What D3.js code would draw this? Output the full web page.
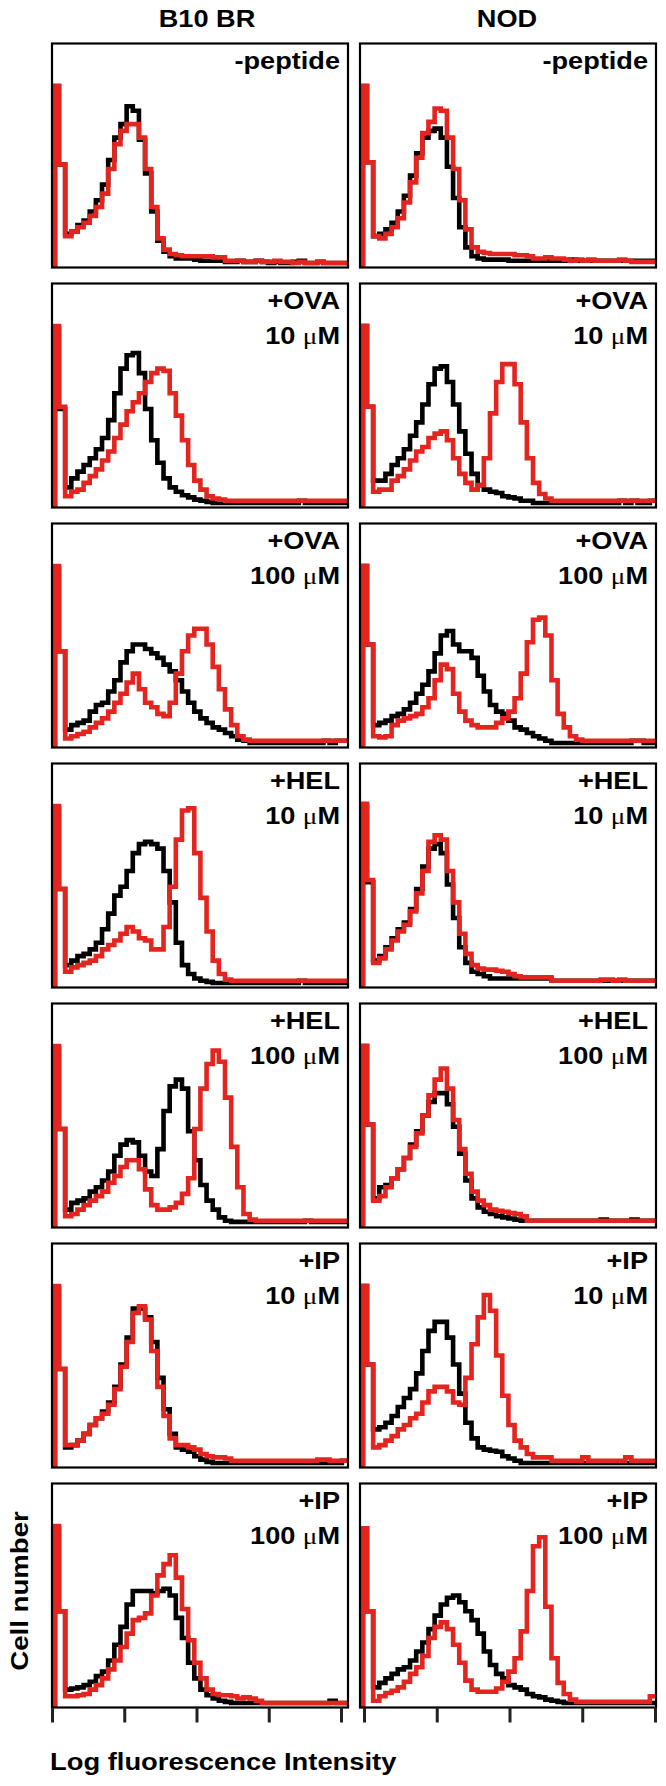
<!DOCTYPE html>
<html lang="en">
<head>
<meta charset="utf-8">
<script src="https://d3js.org/d3.v7.min.js"></script>
<title>Cell number histograms</title>
<style>
  body { margin: 0px; background-color: #ffffff; }
  text { font-family: "Liberation Sans", Arial, sans-serif; font-weight: bold; fill: #000; }
</style>
</head>
<body>
<div id="chart"></div>
<script>
var strains = ["B10 BR", "NOD"];
var peptides = ["-peptide", "+OVA", "+OVA", "+HEL", "+HEL", "+IP", "+IP"];
var doses = ["", "10", "100", "10", "100", "10", "100"];
var decades = [1, 10, 100, 1000, 10000];

// 48 bins per histogram, cell number as % of panel height
var b10Black = [
  [81,46,15,16,19,21,25,30, 37,48,58,64,72,70,57,42, 25,12,7,5,4,4,4,3.5, 3,3,3,3,2.5,2.5,3,2.5, 2.5,3,2.5,2,2.5,2,2,2.5, 3,2,2,2.5,2,2,2,2],
  [80,44,9,13,16,19,22,26, 31,39,51,62,68,69,60,44, 30,20,13,9,7,5.5,4.5,3.5, 3,2.5,2,2,2,2,2,2, 2,2,2,2,2,2,2,2, 3,2,2,2,2,2,2,2],
  [80,43,8,10,11,12,16,19, 20,25,30,38,43,46,46,44, 42,40,37,34,30,25,20,16, 13,11,9,8,6.5,5,3.5,3, 2,2,2,2,2,2,2,2, 2,2,2,2,3,2,3,3],
  [80,44,10,12,14,15,17,20, 26,33,41,45,52,60,64,65, 64,62,52,38,20,10,6,4, 3,2.5,2,2,2,2,2,2, 2,2,2,2,2,2,2,2, 3,2,2,2,2,2,2,2],
  [80,44,8,11,12,13,16,18, 21,25,32,37,39,38,32,25, 23,35,52,63,66,62,43,30, 19,12,8,4.5,3,2.5,2.5,2.5, 2.5,2.5,2.5,2.5,2.5,2.5,2.5,2.5, 2.5,3,2.5,2.5,2.5,2.5,2.5,2.5],
  [80,44,9,10,12,15,19,22, 25,29,36,46,58,71,71,67, 56,40,26,15,9,8,7,5, 3.5,2.5,2,2,2,2,2,2, 2,2,2,2,2,2,2,2, 2,2,2,2,2,2,2,3],
  [80,43,8,8.5,9,10,11.5,14, 16,21,28,36,46,52,52,52, 51,52,53,50,40,31,20,13, 8,5.5,4,3,2.5,2,2,2, 2,2,2,2,2,2,2,2, 2,2,2,2,2,3,2,2]
];
var b10Red = [
  [81,46,14,16,18,20,23,27, 33,44,55,61,64,64,58,44, 27,13,8,6,5.5,5,5,5, 5,5,4.5,4.5,3,3,3,2.5, 2.5,3,2.5,2.5,3,2.5,2.5,2, 2.5,2,2,2.5,2,2,2,2],
  [81,45,5,7,8,11,14,17, 21,25,31,37,43,47,51,56, 60,62,61,51,41,30,19,12, 8,5,4,3.5,3,3,3,3, 3,3,3,3,3,3,3,3, 3,3,3,3,3,3,3,3],
  [81,43,4,5,6,7,9,11, 13,16,20,24,29,33,26,20, 18,15,14,20,33,43,50,53, 53,46,36,26,17,10,5,3.5, 3,3,3,3,3,3,3,3, 3,3,3,3,3,3,3,3],
  [81,44,7,9,10,11,12,14, 17,19,21,24,27,25,22,21, 17,17,27,45,66,79,80,60, 40,25,12,6,3.5,3,3,3, 3,3,3,3,3,3,3,3, 3,3,3,3,3,3,3,3],
  [81,44,5,6,8,10,12,14, 16,20,23,27,30,30,26,17, 10,8,8,9,11,15,22,44, 62,73,79,74,58,36,18,6, 3.5,3,3,3,3,3,3,3, 3,3,3,3,3,3,3,3],
  [81,44,10,10,12,15,19,22, 24,28,35,45,56,69,72,66, 52,36,23,13,10,10,9,8, 6,5,4.5,4.5,4,3,3,3, 3,3,3,3,3,3,3,3, 3,3,3,3.5,3.5,3,3,3],
  [81,43,5,5,5.5,6,8,10, 13,17,21,27,33,39,40,42, 50,59,64,68,58,44,30,20, 13,8,6,5.5,5.5,5,4,4.5, 4,3,2,2,2,2,2,2, 2,2,2,2,2,2,2,2]
];
var nodBlack = [
  [81,47,14,15,17,20,25,32, 41,51,58,61,62,58,45,31, 18,9,5,4,3.5,3.5,3.5,3.5, 3,3,3,3,3,3,3,3, 3,3,3.5,3,3,3,3,3, 3,3,3,3,3,3,3,3],
  [81,45,12,12,15,19,22,26, 32,38,46,55,62,63,56,46, 34,24,15,10,8,7,6.5,5, 4.5,4,3,3,2,2,2,2, 2,2,2,2,2,2,2,2, 2,2,3,2,3,2,2,3],
  [81,46,10,11,12,14,15,17, 20,24,28,34,42,50,52,46, 43,43,40,32,25,19,16,15, 12,9,8,6.5,5,4,3,2, 2,2,2,2,2,2,2,2, 2,2,2,2,3,3,2,2],
  [81,47,12,14,18,22,26,29, 35,44,54,62,64,60,46,31, 18,11,7,6,5,4,4,4, 4,4,4,4,4,4,4,3, 3,3,3,3,3,3,3,3, 3,3,3,3,3,3,3,3],
  [81,46,13,18,19,22,26,31, 37,43,50,56,60,60,55,45, 33,21,13,9,7,6,5,4.5, 4,3.5,3,3,3,3,3,3, 3,3,3,3,3,3,3,3.5, 3,3,3,3,3.5,3,3,3],
  [81,46,17,18,20,23,27,31, 35,42,52,61,65,65,58,46, 33,20,13,9,8,7.5,7,5, 4,3,2,2,2,2,2,2, 2,2,2,2,2,2,2,2, 2,2,2,2,2,2,2,2],
  [80,43,9,11,13,15,17,18, 21,25,29,35,41,46,49,50, 47,43,39,33,25,19,15,13, 10,9,8,6,5,4.5,3.5,3, 2.5,2,2,2,2,2,2,2, 2,2,2,2,2,2,2,2]
];
var nodRed = [
  [81,47,14,13,15,18,22,29, 38,49,60,65,71,70,58,44, 30,17,9,7,6.5,6,6,6, 6,5.5,5.5,5,4,4,4.5,4, 4,3.5,3,3.5,3,3.5,3,3, 3,3,3.5,3,2.5,2.5,2.5,2.5],
  [81,45,7,8,8,12,14,17, 21,25,27,31,33,34,30,22, 15,11,8,10,22,42,56,64, 64,55,38,22,11,6,4,3, 3,3,3,3,3,3,3,3, 3,3,3,3,3,3,3,3],
  [81,46,5,4.5,5,10,12,13, 14,15,18,22,30,37,35,24, 16,12,10,9,9,9,11,13, 16,22,33,47,57,58,50,30, 15,9,5,3.5,3,3,3,3, 3,3,3,3,3,3,3,3],
  [82,48,11,13,17,21,25,28, 34,42,52,65,68,66,52,38, 24,15,10,8.5,8,8,7.5,7, 6,5,4.5,4.5,4.5,4.5,4.5,3, 3,3,3,3,3,3,3,3.5, 3.5,3,3.5,3,3,3,3,3],
  [81,46,12,14,18,22,26,31, 36,42,50,59,66,71,62,48, 35,24,16,12,10,8,7.5,7, 6.5,6,5,3,3,3,3,3, 3,3,3,3,3,3,3,3, 3,3,3,3,3,3,3,3],
  [81,46,9,10,12,14,17,19, 22,24,29,34,36,36,34,29, 28,40,55,67,77,70,50,32, 19,12,9,6,4.5,4.5,4.5,3, 3,3,3,3,4.5,3,3,3, 3,3,3,4.5,3,3,3,3],
  [80,43,3,5,6.5,7.5,9,11.5, 15,18,23,31,36,38,35,28, 20,12,8,7,7,7,8.5,11.5, 16,22,34,52,72,76,45,22, 11,6,3.5,2.5,2.5,2.5,2.5,2.5, 2.5,2.5,2.5,2.5,2.5,2.5,2.5,5]
];

var width = 666, height = 1786;
var panelW = 296, panelH = 224, rowStep = 240, top0 = 43.5;
var colX = [52, 360];
var tickRange = [[52, 341], [364, 655]];
var nBins = 48;
var red = "#e3241f";
var lineW = 4.6;

var svg = d3.select("#chart")
  .append("svg")
  .attr("width", width)
  .attr("height", height);

// stretched bold text, like the original figure lettering
function label(x, y, anchor, size, sx, rot) {
  var t = "translate(" + x + "," + y + ")" + (rot ? " rotate(" + rot + ")" : "") + " scale(" + sx + ",1)";
  return svg.append("g").attr("transform", t)
    .append("text")
    .attr("text-anchor", anchor)
    .style("font-size", size + "px");
}

label(207, 27, "middle", 23, 1.18).text(strains[0]);
label(507, 27, "middle", 23, 1.18).text(strains[1]);

function points(vals) {
  var p = [[0, 0]];
  vals.forEach(function(v, i) { p.push([i, v]); });
  p.push([nBins, vals[nBins - 1]]);
  return p;
}

[[b10Black, b10Red], [nodBlack, nodRed]].forEach(function(series, c) {
  var x0 = colX[c];
  for (var r = 0; r < peptides.length; r++) {
    var y0 = top0 + r * rowStep;
    // first bin (off-scale pile-up) is drawn narrow, as on the cytometer plot
    var x = d3.scaleLinear().domain([0, 1, nBins]).range([x0 + 3, x0 + 7, x0 + panelW]);
    var y = d3.scaleLinear().domain([0, 100]).range([y0 + panelH, y0]);
    var line = d3.line()
      .x(function(d) { return x(d[0]); })
      .y(function(d) { return y(d[1]); })
      .curve(d3.curveStepAfter);

    var g = svg.append("g");
    g.append("path")
      .datum(points(series[0][r]))
      .attr("d", line)
      .attr("fill", "none")
      .attr("stroke", "#000")
      .attr("stroke-width", lineW);
    g.append("path")
      .datum(points(series[1][r]))
      .attr("d", line)
      .attr("fill", "none")
      .attr("stroke", red)
      .attr("stroke-width", lineW);

    g.append("rect")
      .attr("x", x0).attr("y", y0)
      .attr("width", panelW).attr("height", panelH)
      .attr("fill", "none")
      .attr("stroke", "#000")
      .attr("stroke-width", 2.2);

    var right = x0 + panelW - 8;
    label(right, y0 + 25.5, "end", 23, 1.18).text(peptides[r]);
    if (doses[r] !== "") {
      var t = label(right, y0 + 60, "end", 23, 1.18);
      t.append("tspan").text(doses[r] + " ");
      t.append("tspan")
        .style("font-family", "'Liberation Serif', serif")
        .style("font-weight", "normal")
        .text("\u03bc");
      t.append("tspan").text("M");
    }
  }

  // log decade ticks under the bottom row
  var xl = d3.scaleLog().domain([1, 10000]).range(tickRange[c]);
  var ax = svg.append("g")
    .attr("transform", "translate(0," + (top0 + 6 * rowStep + panelH) + ")")
    .call(d3.axisBottom(xl).tickValues(decades).tickSize(15).tickFormat(""));
  ax.select(".domain").remove();
  ax.selectAll(".tick line").attr("stroke", "#222").attr("stroke-width", 3);
});

label(28, 1591, "middle", 24, 1.15, -90).text("Cell number");
label(50, 1770, "start", 24, 1.14).text("Log fluorescence Intensity");
</script>
</body>
</html>
